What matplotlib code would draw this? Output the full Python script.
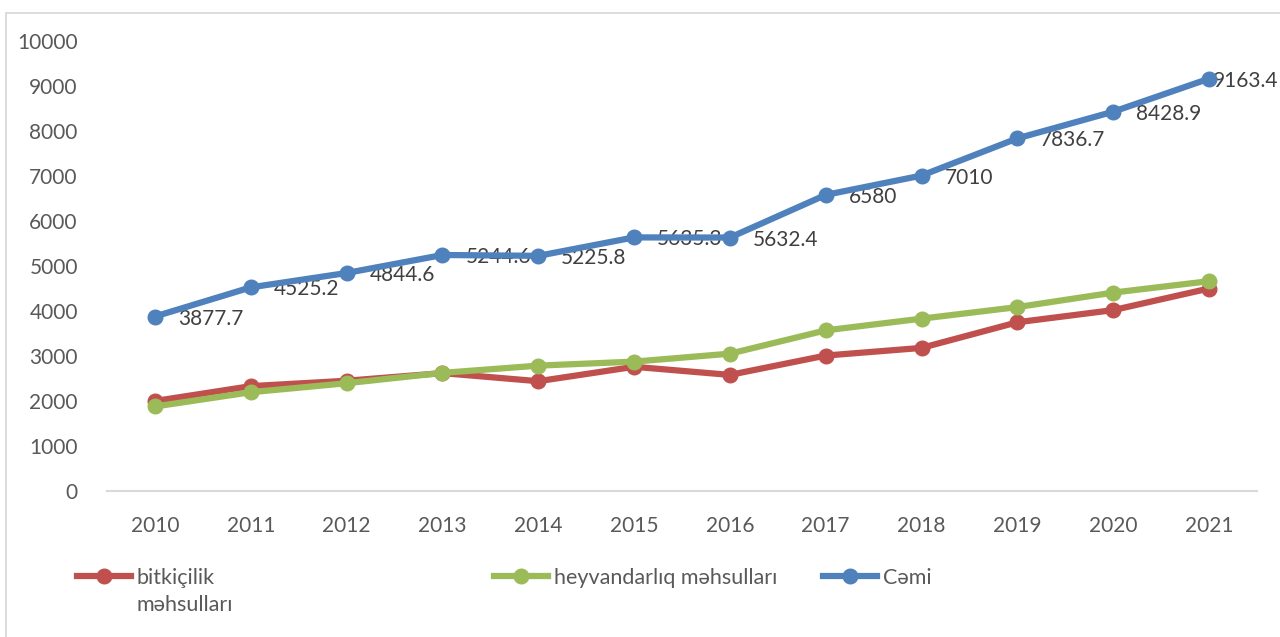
import matplotlib.pyplot as plt
from matplotlib.lines import Line2D
from matplotlib.patches import Rectangle

plt.rcParams['font.family'] = ['Lato', 'DejaVu Sans']

years = [2010, 2011, 2012, 2013, 2014, 2015, 2016, 2017, 2018, 2019, 2020, 2021]
bitkicilik = [2000, 2330, 2450, 2620, 2440, 2760, 2580, 3010, 3180, 3750, 4020, 4500]
heyvandarliq = [1878, 2195, 2395, 2625, 2786, 2875, 3052, 3570, 3830, 4087, 4409, 4663]
cemi = [3877.7, 4525.2, 4844.6, 5244.6, 5225.8, 5635.3, 5632.4, 6580, 7010, 7836.7, 8428.9, 9163.4]
cemi_labels = ['3877.7', '4525.2', '4844.6', '5244.6', '5225.8', '5635.3', '5632.4',
               '6580', '7010', '7836.7', '8428.9', '9163.4']

red = '#c0504d'
green = '#9bbb59'
blue = '#4f81bd'

fig = plt.figure(figsize=(12.8, 6.37), dpi=100)
ax = fig.add_axes([107/1280, 1-491/637, 1150/1280, 450/637])

# chart border
fig.patches.append(Rectangle((6/1280, -0.1), 1.2, 1-12.5/637+0.1, transform=fig.transFigure,
                             fill=False, edgecolor='#d9d9d9', linewidth=1.3))

x = list(range(len(years)))
lw = 4.5
ms = 10.5
ax.plot(x, bitkicilik, color=red, linewidth=lw, marker='o', markersize=ms, zorder=3)
ax.plot(x, heyvandarliq, color=green, linewidth=lw, marker='o', markersize=ms, zorder=4)
ax.plot(x, cemi, color=blue, linewidth=lw, marker='o', markersize=ms, zorder=5)

for i, (v, s) in enumerate(zip(cemi, cemi_labels)):
    dx = 16.5 if i < len(cemi) - 1 else 2.5
    ax.annotate(s, (i, v), xytext=(dx, -1.5), textcoords='offset points',
                ha='left', va='center', fontsize=15, color='#404040', zorder=2)

ax.set_xlim(-0.5, len(years) - 0.5)
ax.set_ylim(0, 10000)
ax.set_yticks(range(0, 10001, 1000))
ax.set_xticks(x)
ax.set_xticklabels([str(y) for y in years])
ax.tick_params(axis='both', length=0, labelsize=15, labelcolor='#595959')
ax.tick_params(axis='x', pad=18)
ax.tick_params(axis='y', pad=21)
for s in ['top', 'right', 'left']:
    ax.spines[s].set_visible(False)
ax.spines['bottom'].set_color('#d9d9d9')
ax.spines['bottom'].set_linewidth(1.5)
ax.spines['bottom'].set_zorder(1)

# legend, one entry per box so the gaps match
entries = [(red, 'bitkiçilik', 77/1280),
           (green, 'heyvandarlıq məhsulları', 494/1280),
           (blue, 'Cəmi', 823/1280)]
for c, lab, xpos in entries:
    h = Line2D([], [], color=c, linewidth=lw, marker='o', markersize=ms)
    fig.legend([h], [lab], loc='center left', bbox_to_anchor=(xpos, 1-578/637),
               frameon=False, fontsize=15.5, handlelength=2.5, handletextpad=0.28,
               borderpad=0, borderaxespad=0, labelcolor='#595959')
fig.text(137/1280, 1-605/637, 'məhsulları', fontsize=15.5, color='#595959',
         ha='left', va='center')

fig.savefig('out.png', dpi=100)
